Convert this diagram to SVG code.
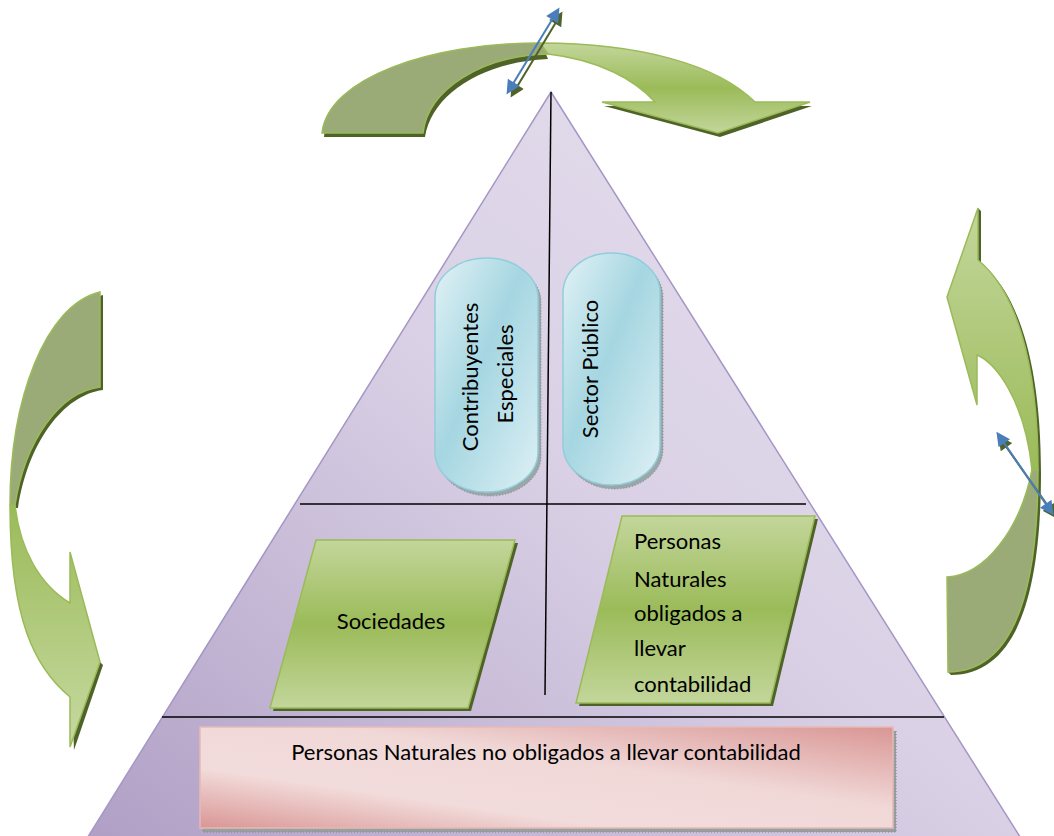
<svg xmlns="http://www.w3.org/2000/svg" width="1054" height="836" viewBox="0 0 1054 836">
<defs>
<linearGradient id="purple" x1="0" y1="1" x2="1" y2="0">
<stop offset="0" stop-color="#b09fc5"/>
<stop offset="0.5" stop-color="#d9d0e5"/>
<stop offset="1" stop-color="#e8e3ef"/>
</linearGradient>
<linearGradient id="greenV" x1="0" y1="0" x2="0" y2="1">
<stop offset="0" stop-color="#c3d69b"/>
<stop offset="0.5" stop-color="#9bbb59"/>
<stop offset="1" stop-color="#c3d69b"/>
</linearGradient>
<linearGradient id="greenDown" x1="0" y1="0" x2="0" y2="1">
<stop offset="0" stop-color="#9bbb59"/>
<stop offset="1" stop-color="#c6d9a0"/>
</linearGradient>
<linearGradient id="greenUp" x1="0" y1="0" x2="0" y2="1">
<stop offset="0" stop-color="#c3d69b"/>
<stop offset="1" stop-color="#9bbb59"/>
</linearGradient>
<linearGradient id="blue" x1="0" y1="0" x2="1" y2="1">
<stop offset="0" stop-color="#e2f2f6"/>
<stop offset="0.45" stop-color="#a5d6e1"/>
<stop offset="1" stop-color="#def0f5"/>
</linearGradient>
<linearGradient id="pink" x1="0" y1="1" x2="1" y2="0">
<stop offset="0" stop-color="#d99694"/>
<stop offset="0.3" stop-color="#f2dcdb"/>
<stop offset="0.6" stop-color="#f0d8d7"/>
<stop offset="1" stop-color="#d99694"/>
</linearGradient>
<marker id="hb" viewBox="0 0 10 10" refX="8" refY="5" markerWidth="8" markerHeight="7" orient="auto-start-reverse" markerUnits="strokeWidth">
<path d="M0,0 L10,5 L0,10 Z" fill="#4a7ebb"/>
</marker>
<marker id="hg" viewBox="0 0 10 10" refX="8" refY="5" markerWidth="8" markerHeight="7" orient="auto-start-reverse" markerUnits="strokeWidth">
<path d="M0,0 L10,5 L0,10 Z" fill="#4f6228"/>
</marker>
</defs>
<style>
.txt{font-family:Lato,"Liberation Sans",sans-serif;font-size:22px;fill:#000}
.arr{stroke:#9bbb59;stroke-width:1.5}
.dark{fill:#9bab78}
.shadow{fill:#4f6228}
.sep{stroke:#000;stroke-width:1.5;fill:none}
.cap{fill:url(#blue);stroke:#92cddc;stroke-width:1.5}
.capsh{fill:#9aa6a8;stroke:#7d8a8c;stroke-dasharray:1 2}
.para{fill:url(#greenV);stroke:#9bbb59;stroke-width:1.5}
.blue{stroke:#4a7ebb;stroke-width:2;marker-start:url(#hb);marker-end:url(#hb)}
.blsh{stroke:#4f6228;stroke-width:2;marker-start:url(#hg);marker-end:url(#hg)}
</style>

<g id="pyramid">
<polygon points="551,92 1022,840 86,840" fill="url(#purple)" stroke="#a596c5" stroke-width="1.5"/>
<path class="sep" d="M551,92 L545,695"/>
<path class="sep" d="M300,504 L806,504"/>
<path class="sep" d="M162,717 L944,717"/>
</g>

<g id="top-arrow">
<path class="shadow" d="M324,137 L425,137 C432,94 482,62 548,59 L543,47 C430,47 330,84 324,137 Z"/>
<path class="shadow" d="M604,106 L720,137 L812,106 Z"/>
<path class="dark arr" d="M322,133 C328,78 430,43 540,43 L548,54 C480,56 428,90 423,133 Z"/>
<path class="arr" fill="url(#greenV)" d="M540,43 C640,43 718,65 755,102 L810,102 L718,133 L602,102 L655,102 C635,80 600,60 548,54 Z"/>
</g>

<g id="left-arrow">
<path class="shadow" d="M103,295 L103,390 C63,395 28,443 18,508 L13,508 C13,400 48,308 103,295 Z"/>
<path class="shadow" d="M72,700 L74,750 L103,665 L100,662 Z"/>
<path class="dark arr" d="M100,292 C45,305 10,400 10,505 L15,505 C25,440 60,392 100,387 Z"/>
<path class="arr" fill="url(#greenDown)" d="M10,505 C10,620 35,668 70,697 L70,747 L100,662 L70,552 L70,603 C40,585 20,550 15,505 Z"/>
</g>

<g id="right-arrow">
<path class="shadow" d="M981,211 L981,263 C1018,293 1041,363 1041,473 C1041,603 1013,675 951,675 L948,672 C1010,672 1038,600 1038,470 C1038,360 1015,290 978,260 L978,208 Z"/>
<path class="arr" fill="url(#greenUp)" d="M978,208 L978,260 C1015,290 1038,360 1038,470 L1032,470 C1025,400 995,362 977,355 L977,405 L947,297 Z"/>
<path class="dark arr" d="M1038,470 C1038,600 1010,672 948,672 L947,577 C985,575 1020,530 1032,470 Z"/>
</g>

<g id="contribuyentes">
<rect class="capsh" x="438" y="262" width="103" height="234" rx="51" ry="40"/>
<rect class="cap" x="435" y="258" width="103" height="234" rx="51" ry="40"/>
<text class="txt" text-anchor="middle" transform="translate(478,377) rotate(-90)">Contribuyentes</text>
<text class="txt" text-anchor="middle" transform="translate(513,374) rotate(-90)">Especiales</text>
</g>

<g id="sector-publico">
<rect class="capsh" x="566" y="257" width="97" height="232" rx="48" ry="40"/>
<rect class="cap" x="563" y="253" width="97" height="232" rx="48" ry="40"/>
<text class="txt" text-anchor="middle" transform="translate(598,369) rotate(-90)">Sector Público</text>
</g>

<g id="sociedades">
<polygon class="shadow" points="319,543 518,543 471,711 273,711"/>
<polygon class="para" points="316,540 515,540 468,708 270,708"/>
<text class="txt" x="391" y="629" text-anchor="middle">Sociedades</text>
</g>

<g id="personas-obligados">
<polygon class="shadow" points="625,519 818,519 773,706 579,706"/>
<polygon class="para" points="622,516 815,516 770,703 576,703"/>
<text class="txt" x="634" y="549">Personas</text>
<text class="txt" x="634" y="587">Naturales</text>
<text class="txt" x="634" y="621">obligados a</text>
<text class="txt" x="634" y="656">llevar</text>
<text class="txt" x="634" y="692">contabilidad</text>
</g>

<g id="personas-no-obligados">
<rect x="203" y="731" width="693" height="101" fill="#9aa0a0" stroke="#7d8080" stroke-dasharray="1 2"/>
<rect x="200" y="727" width="693" height="101" fill="url(#pink)" stroke="#e6b9b8" stroke-width="1.5"/>
<text class="txt" x="546" y="760" text-anchor="middle">Personas Naturales no obligados a llevar contabilidad</text>
</g>

<g id="connectors">
<line class="blsh" x1="512" y1="95" x2="561" y2="14"/>
<line class="blue" x1="508" y1="92" x2="558" y2="10"/>
<line class="blsh" x1="1000" y1="438" x2="1055" y2="516"/>
<line class="blue" x1="998" y1="434" x2="1052" y2="513"/>
</g>
</svg>
